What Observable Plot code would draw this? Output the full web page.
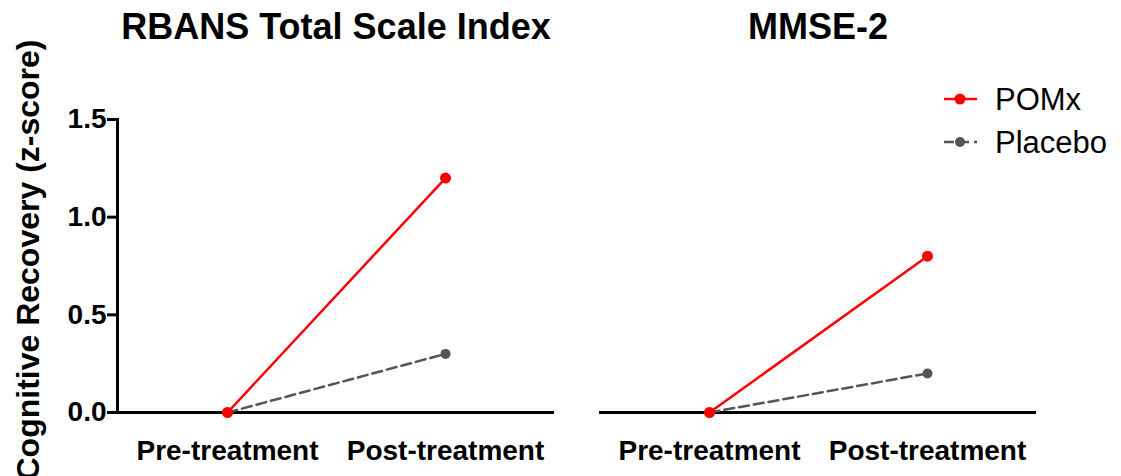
<!DOCTYPE html>
<html>
<head>
<meta charset="utf-8">
<script src="https://cdn.jsdelivr.net/npm/d3@7"></script>
<script src="https://cdn.jsdelivr.net/npm/@observablehq/plot@0.6"></script>
<style>
  html, body { margin: 0; padding: 0; background: #fff; }
  #wrap { position: relative; width: 1121px; height: 476px; overflow: hidden; font-family: "Liberation Sans", Arial, Helvetica, sans-serif; }
  #legend { position: absolute; left: 0; top: 0; pointer-events: none; }
</style>
</head>
<body>
<div id="wrap"></div>
<script>
// ---- data ----
const tests = ["RBANS Total Scale Index", "MMSE-2"];
const timepoints = ["Pre-treatment", "Post-treatment"];
const groups = ["POMx", "Placebo"];
const pomxValues = [[0, 1.2], [0, 0.8]];      // per test: [pre, post]
const placeboValues = [[0, 0.3], [0, 0.2]];   // per test: [pre, post]
const yTicks = [0, 0.5, 1.0, 1.5];
const yLabel = "Cognitive Recovery (z-score)";
const groupColors = ["#ff0000", "#555555"];

// ---- build rows ----
const rows = [];
tests.forEach((test, ti) => {
  timepoints.forEach((time, k) => {
    rows.push({test, time, group: groups[0], value: pomxValues[ti][k]});
    rows.push({test, time, group: groups[1], value: placeboValues[ti][k]});
  });
});
const pomx = rows.filter(d => d.group === groups[0]);
const placebo = rows.filter(d => d.group === groups[1]);

const font = "Liberation Sans, Arial, Helvetica, sans-serif";

const chart = Plot.plot({
  width: 1121,
  height: 476,
  marginTop: 119,
  marginBottom: 64,
  marginLeft: 117,
  marginRight: 84,
  style: {fontFamily: font, color: "black", background: "white", overflow: "visible"},
  fx: {domain: tests, paddingInner: 0.093, paddingOuter: 0, axis: null},
  x: {type: "point", domain: timepoints, padding: 0.5},
  y: {domain: [0, 1.5]},
  marks: [
    Plot.ruleY([0], {stroke: "black", strokeWidth: 3}),
    Plot.frame({anchor: "left", facetAnchor: "left", stroke: "black", strokeWidth: 3}),
    Plot.axisY({
      ticks: yTicks, tickFormat: d3.format(".1f"), tickSize: 10, tickPadding: 1,
      fontSize: 28, fontWeight: "bold", strokeWidth: 3, label: null
    }),
    Plot.axisX({tickSize: 0, tickPadding: 28, fontSize: 28, fontWeight: "bold", label: null}),
    Plot.text([tests[0]], {
      fx: d => d, text: () => yLabel, frameAnchor: "left", dx: -89, dy: -6, rotate: -90,
      textAnchor: "middle", lineAnchor: "middle",
      fontSize: 32, fontWeight: "bold"
    }),
    Plot.text(tests, {
      fx: d => d, text: d => d, frameAnchor: "top", dy: -92.5,
      textAnchor: "middle", lineAnchor: "middle",
      fontSize: 36, fontWeight: "bold"
    }),
    Plot.line(placebo, {fx: "test", x: "time", y: "value", stroke: groupColors[1], strokeWidth: 2.5, strokeDasharray: "10,5"}),
    Plot.line(pomx, {fx: "test", x: "time", y: "value", stroke: groupColors[0], strokeWidth: 2.5}),
    Plot.dot(placebo, {fx: "test", x: "time", y: "value", fill: groupColors[1], r: 5}),
    Plot.dot(pomx, {fx: "test", x: "time", y: "value", fill: groupColors[0], r: 5.5})
  ]
});

const wrap = document.getElementById("wrap");
wrap.appendChild(chart);

// ---- legend (line + dot swatches) ----
const ns = "http://www.w3.org/2000/svg";
const leg = document.createElementNS(ns, "svg");
leg.setAttribute("id", "legend");
leg.setAttribute("width", 1121);
leg.setAttribute("height", 476);
groups.forEach((g, i) => {
  const cy = 99 + i * 43;
  const line = document.createElementNS(ns, "line");
  line.setAttribute("x1", 944); line.setAttribute("x2", 977);
  line.setAttribute("y1", cy); line.setAttribute("y2", cy);
  line.setAttribute("stroke", groupColors[i]);
  line.setAttribute("stroke-width", 2.5);
  if (i === 1) line.setAttribute("stroke-dasharray", "10,5");
  leg.appendChild(line);
  const c = document.createElementNS(ns, "circle");
  c.setAttribute("cx", 960); c.setAttribute("cy", cy);
  c.setAttribute("r", i === 0 ? 5.5 : 5);
  c.setAttribute("fill", groupColors[i]);
  leg.appendChild(c);
  const t = document.createElementNS(ns, "text");
  t.setAttribute("x", 995); t.setAttribute("y", cy + 11);
  t.setAttribute("font-size", 31);
  t.setAttribute("font-family", font);
  t.setAttribute("fill", "black");
  t.textContent = g;
  leg.appendChild(t);
});
wrap.appendChild(leg);
</script>
</body>
</html>
